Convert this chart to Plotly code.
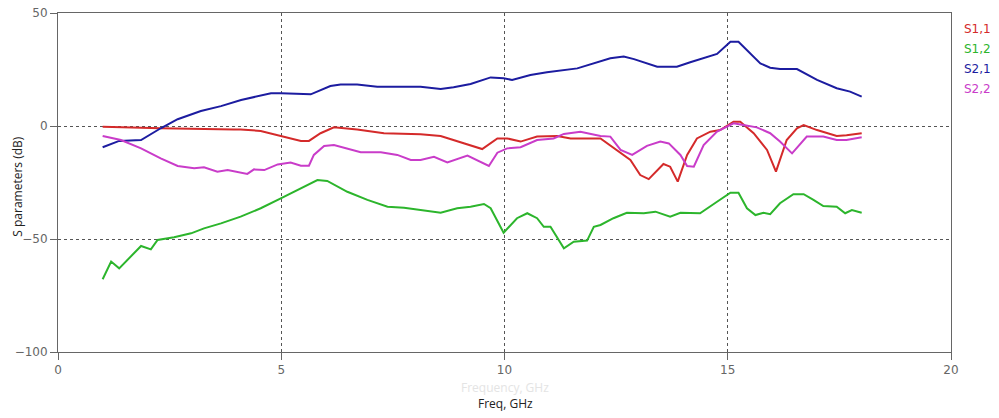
import plotly.graph_objects as go

# S-parameter sweep, frequency in GHz, magnitude in dB
s11_f = [1.0, 1.56, 2.3, 3.94, 4.09, 4.54, 4.99, 5.44, 5.62, 5.88, 6.18, 6.7, 7.3, 8.12, 8.57,
         9.09, 9.5, 9.84, 10.06, 10.36, 10.73, 11.18, 11.48, 12.15, 12.52, 12.82, 13.04, 13.23,
         13.56, 13.71, 13.88, 14.09, 14.31, 14.61, 14.83, 15.13, 15.28, 15.58, 15.88, 16.08,
         16.32, 16.55, 16.7, 17.0, 17.44, 17.66, 18.0]
s11_db = [-0.3, -0.6, -1.0, -1.5, -1.5, -2.2, -4.4, -6.6, -6.6, -3.2, -0.6, -1.5, -3.2, -3.7, -4.4,
          -7.7, -10.2, -5.5, -5.5, -6.9, -4.7, -4.4, -5.5, -5.5, -10.6, -15.0, -21.7, -23.5,
          -16.8, -18.0, -24.6, -12.8, -5.5, -2.5, -1.8, 1.9, 1.9, -3.2, -10.6, -20.2,
          -6.2, -1.0, 0.4, -1.8, -4.4, -4.1, -3.2]

s12_f = [1.0, 1.19, 1.37, 1.86, 2.08, 2.23, 2.6, 2.98, 3.27, 3.65, 4.09, 4.54, 4.99, 5.44, 5.81,
         6.03, 6.48, 6.93, 7.38, 7.75, 8.12, 8.57, 8.94, 9.24, 9.54, 9.69, 9.98, 10.28, 10.51,
         10.73, 10.88, 11.03, 11.33, 11.55, 11.85, 12.0, 12.15, 12.44, 12.74, 13.12, 13.38,
         13.71, 13.94, 14.38, 14.76, 15.06, 15.24, 15.43, 15.62, 15.8, 15.95, 16.17, 16.47,
         16.7, 16.92, 17.14, 17.44, 17.63, 17.78, 18.0]
s12_db = [-67.8, -60.0, -63.0, -53.1, -54.6, -50.4, -49.2, -47.5, -45.3, -43.1, -40.1, -36.4, -32.0,
          -27.6, -23.9, -24.3, -29.1, -32.7, -35.7, -36.2, -37.2, -38.4, -36.4, -35.7, -34.5,
          -36.4, -47.2, -40.8, -38.6, -40.8, -44.6, -44.6, -54.1, -51.2, -50.7, -44.6, -43.8,
          -40.8, -38.4, -38.6, -37.9, -40.1, -38.4, -38.6, -33.5, -29.5, -29.5, -36.4, -39.4,
          -38.4, -39.0, -34.2, -30.2, -30.2, -32.7, -35.4, -35.7, -38.6, -37.2, -38.4]

s21_f = [1.0, 1.37, 1.86, 2.3, 2.68, 3.2, 3.65, 4.1, 4.77, 5.0, 5.66, 5.88, 6.1, 6.33, 6.7, 7.15,
         8.12, 8.57, 8.86, 9.24, 9.69, 9.98, 10.17, 10.58, 10.95, 11.63, 12.15, 12.37, 12.67,
         12.9, 13.42, 13.86, 14.16, 14.76, 15.06, 15.24, 15.73, 15.95, 16.17, 16.55, 17.0,
         17.44, 17.74, 18.0]
s21_db = [-9.4, -6.6, -6.2, -1.0, 3.0, 6.6, 8.8, 11.5, 14.5, 14.5, 14.0, 15.9, 17.7, 18.4, 18.4, 17.4,
          17.4, 16.4, 17.1, 18.6, 21.5, 21.1, 20.4, 22.6, 23.8, 25.5, 28.8, 30.0, 30.7,
          29.6, 26.2, 26.2, 28.2, 31.9, 37.3, 37.3, 27.7, 25.8, 25.2, 25.2, 20.4,
          16.7, 15.2, 13.0]

s22_f = [1.0, 1.41, 1.86, 2.3, 2.68, 3.05, 3.27, 3.57, 3.8, 4.09, 4.24, 4.39, 4.62, 4.92, 5.21,
         5.44, 5.62, 5.73, 5.96, 6.18, 6.48, 6.78, 7.23, 7.6, 7.9, 8.12, 8.42, 8.72, 9.17, 9.54,
         9.65, 9.84, 10.06, 10.36, 10.73, 11.1, 11.33, 11.7, 12.15, 12.37, 12.6, 12.86, 13.19,
         13.49, 13.68, 13.94, 14.09, 14.24, 14.46, 14.76, 15.13, 15.35, 15.65, 15.95, 16.17,
         16.44, 16.77, 17.14, 17.44, 17.66, 18.0]
s22_db = [-4.4, -6.2, -9.9, -14.3, -17.7, -18.7, -18.3, -20.2, -19.5, -20.7, -21.2, -19.2, -19.5,
          -17.0, -16.2, -17.6, -17.6, -12.8, -8.8, -8.4, -9.9, -11.6, -11.6, -12.8, -15.0, -15.0,
          -13.6, -16.1, -13.1, -16.5, -17.7, -11.8, -9.9, -9.4, -6.2, -5.5, -3.5, -2.5, -4.4,
          -4.7, -10.6, -12.8, -8.8, -6.9, -7.7, -12.8, -17.7, -18.0, -8.4, -2.5, 1.2, 0.4, -0.6,
          -3.2, -6.9, -12.1, -4.7, -4.7, -6.2, -6.2, -5.0]

series_names = ["S1,1", "S1,2", "S2,1", "S2,2"]
series_colors = ["#d42a2a", "#2cb52c", "#1c1ca0", "#c93cc9"]
series_f = [s11_f, s12_f, s21_f, s22_f]
series_db = [s11_db, s12_db, s21_db, s22_db]

x_ticks = [0, 5, 10, 15, 20]
y_ticks = [-100, -50, 0, 50]

fig = go.Figure()
for name, color, f, db in zip(series_names, series_colors, series_f, series_db):
    fig.add_trace(go.Scatter(x=f, y=db, mode="lines", name=name,
                             line=dict(color=color, width=2), showlegend=False))

tick_font = dict(family="DejaVu Sans", size=12, color="#666666")
axis_common = dict(showline=True, linecolor="#666666", linewidth=1, mirror=True,
                   ticks="outside", ticklen=7, tickcolor="#666666", tickfont=tick_font,
                   showgrid=True, gridcolor="#555555", griddash="dot", gridwidth=1,
                   zeroline=False, automargin=False)

fig.update_xaxes(range=[0, 20], tickvals=x_ticks, **axis_common)
fig.update_yaxes(range=[-100, 50], tickvals=y_ticks, **axis_common)

annotations = []
# series labels at the right of the plot
for i, (name, color) in enumerate(zip(series_names, series_colors)):
    annotations.append(dict(text=name, xref="paper", yref="paper", x=1.012,
                            y=0.953 - i * 0.059, xanchor="left", yanchor="middle",
                            showarrow=False,
                            font=dict(family="DejaVu Sans", size=12, color=color)))
# axis titles
annotations.append(dict(text="S parameters (dB)", xref="paper", yref="paper", x=-0.045, y=0.49,
                        textangle=-90, showarrow=False, xanchor="center", yanchor="middle",
                        font=dict(family="Open Sans", size=12, color="#222222")))
annotations.append(dict(text="Frequency, GHz", xref="paper", yref="paper", x=0.5, y=-0.105,
                        showarrow=False, xanchor="center", yanchor="middle",
                        font=dict(family="Open Sans", size=12, color="#e4e4e4")))
annotations.append(dict(text="Freq, GHz", xref="paper", yref="paper", x=0.5006, y=-0.153,
                        showarrow=False, xanchor="center", yanchor="middle",
                        font=dict(family="Open Sans", size=12, color="#222222")))

fig.update_layout(width=999, height=418, margin=dict(l=58, r=48, t=13, b=66),
                  paper_bgcolor="white", plot_bgcolor="white", annotations=annotations)

fig.write_html("out.html")
